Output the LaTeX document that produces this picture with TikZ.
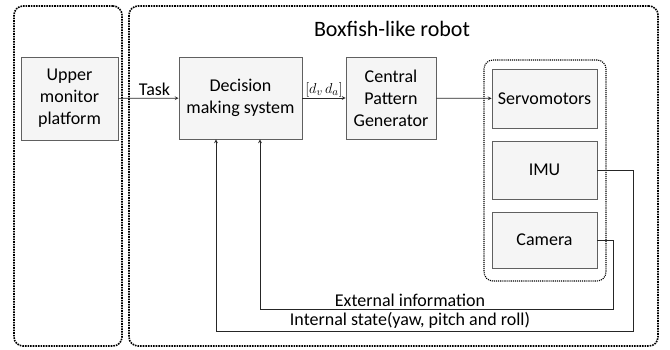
\documentclass[tikz,border=0pt]{standalone}
\usepackage{fontspec}
\setmainfont{Carlito}
\usepackage{amsmath}
\usepackage{tikz}

\begin{document}
\begin{tikzpicture}[x=1pt, y=-1pt,
    block/.style={rectangle, draw=gray!75!black, fill=black!4, line width=0.8pt, align=center, font=\fontsize{18}{22}\selectfont},
    group/.style={draw, densely dotted, line width=1.6pt, rounded corners=9pt},
    subgroup/.style={draw, densely dotted, line width=1.1pt, rounded corners=9pt},
    label/.style={font=\fontsize{18}{22}\selectfont, inner sep=2pt},
    dependency/.style={->, >=stealth, line width=0.7pt, draw=black!85}
]
    \useasboundingbox (0,0) rectangle (670,349);

    % Groups
    \node[group, minimum width=108, minimum height=340] (monitor) at (68,176) {};
    \node[group, minimum width=529, minimum height=340] (robot) at (393.5,176) {};
    \node[subgroup, minimum width=122, minimum height=221] (sensors) at (545,170.5) {};
    \node[font=\fontsize{22}{26}\selectfont] (title) at (392,29) {Boxfish-like robot};

    % Main blocks
    \node[block, minimum width=97, minimum height=83] (upper) at (69.5,98.5) {Upper\\monitor\\platform};
    \node[block, minimum width=123, minimum height=82] (dms) at (240.5,98) {Decision\\making system};
    \node[block, minimum width=90, minimum height=82] (cpg) at (391,98) {Central\\Pattern\\Generator};

    % Sensor blocks
    \node[block, minimum width=105, minimum height=59] (servo) at (544.5,98.5) {Servomotors};
    \node[block, minimum width=105, minimum height=58] (imu) at (544.5,170) {IMU};
    \node[block, minimum width=105, minimum height=56] (camera) at (544.5,240) {Camera};

    % Feedback corners
    \coordinate (imuR) at (633,170);
    \coordinate (intB) at (633,331);
    \coordinate (intL) at (216,331);
    \coordinate (camR) at (613,240);
    \coordinate (extB) at (613,309);
    \coordinate (extL) at (260,309);

    % Dependencies
    \draw[dependency] (upper) -- node[label, above, pos=0.6] {Task} (dms);
    \draw[dependency] (dms) -- node[above, inner sep=1pt, font=\fontsize{15}{17}\selectfont] {$[d_v\,d_a]$} (cpg);
    \draw[dependency] (cpg) -- (servo);

    \draw[dependency] (imu.east) -- (imuR) -- (intB) -- (intL) -- (intL |- dms.south);
    \draw[dependency] (camera.east) -- (camR) -- (extB) -- (extL) -- (extL |- dms.south);

    \node[label, above] (intlbl) at (410,331) {Internal state(yaw, pitch and roll)};
    \node[label, above] (extlbl) at (410,309) {External information};
\end{tikzpicture}
\end{document}
